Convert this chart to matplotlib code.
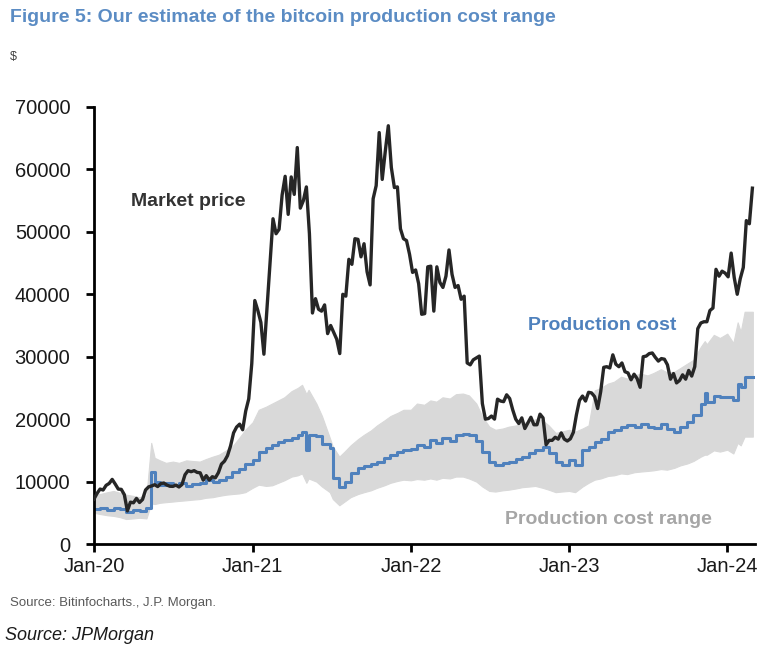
import matplotlib
matplotlib.use("Agg")
import matplotlib.pyplot as plt
import pandas as pd

# ---------------- data ----------------
# weekly bitcoin market price (USD), Wednesdays from 2020-01-01 to 2024-02-28
price_start = "2020-01-01"
price_values = [
    7200, 8100, 8800, 8650, 9400, 9700, 10350, 9600, 8800, 8750, 7900, 5300, 6700,
    6600, 7300, 6650, 7130, 8660, 9150, 9300, 9500, 9200, 9670, 9770, 9450, 9250,
    9230, 9430, 9130, 9530, 11100, 11750, 11580, 11750, 11470, 11400, 10230, 10950,
    10240, 10780, 10600, 11430, 12800, 13270, 14150, 15700, 17800, 18730, 19200,
    18300, 21300, 23250, 28900,
    39000, 37400, 35500, 30400, 37600, 44800, 52100, 49700, 50400, 55900, 58900,
    52800, 58800, 56000, 63500, 53800, 55000, 57200, 49700, 37000, 39300, 37600,
    37300, 38300, 33700, 35000, 33900, 32800, 30500, 40000, 39700, 45600, 44800,
    48900, 48800, 46000, 48100, 43600, 41500, 55300, 57400, 65900, 58400, 62900,
    67000, 60300, 57100, 57200, 50500, 48900, 48600, 46400,
    43500, 43900, 41700, 36800, 36900, 44400, 44500, 37300, 44400, 41900, 41100,
    42900, 47100, 43200, 41100, 41400, 39200, 39700, 29000, 28700, 29500, 29800,
    30100, 22500, 20000, 20100, 20500, 20000, 23200, 22900, 22800, 23900, 23300,
    21500, 20000, 19300, 20200, 18500, 19400, 20300, 19100, 19100, 20800, 20200,
    15900, 16600, 16600, 17100, 16800, 17800, 16800, 16500,
    16850, 17900, 20700, 23000, 23700, 22900, 24300, 24200, 23600, 21700, 24400,
    28300, 28400, 28200, 30300, 28800, 28400, 29000, 27600, 27400, 26300, 27200,
    26500, 25100, 30000, 30100, 30500, 30600, 29900, 29300, 29700, 29600, 28700,
    26400, 27300, 25800, 26200, 27100, 26400, 27800, 26900, 28400, 34500, 35400,
    35600, 35600, 37400, 37800, 44000, 42900, 43700, 43400,
    42800, 46600, 42700, 40000, 42500, 44300, 51800, 51300, 57000,
]

cost_dates = [
    "2020-01-01", "2020-01-15", "2020-02-01", "2020-02-15", "2020-03-01", "2020-03-15",
    "2020-04-01", "2020-04-15", "2020-05-01", "2020-05-12", "2020-05-20", "2020-06-01",
    "2020-06-15", "2020-07-01", "2020-07-15", "2020-08-01", "2020-08-15", "2020-09-01",
    "2020-09-15", "2020-10-01", "2020-10-15", "2020-11-01", "2020-11-15", "2020-12-01",
    "2020-12-15",
    "2021-01-01", "2021-01-15", "2021-02-01", "2021-02-15", "2021-03-01", "2021-03-15",
    "2021-04-01", "2021-04-15", "2021-04-25", "2021-05-05", "2021-05-10", "2021-05-28",
    "2021-06-10", "2021-06-28", "2021-07-05", "2021-07-20", "2021-08-01", "2021-08-15",
    "2021-09-01", "2021-09-15", "2021-10-01", "2021-10-15", "2021-11-01", "2021-11-15",
    "2021-12-01", "2021-12-15",
    "2022-01-01", "2022-01-15", "2022-02-01", "2022-02-15", "2022-03-01", "2022-03-15",
    "2022-04-01", "2022-04-15", "2022-05-01", "2022-05-15", "2022-06-01", "2022-06-15",
    "2022-07-01", "2022-07-15", "2022-08-01", "2022-08-15", "2022-09-01", "2022-09-15",
    "2022-10-01", "2022-10-15", "2022-11-01", "2022-11-15", "2022-12-01", "2022-12-15",
    "2023-01-01", "2023-01-15", "2023-02-01", "2023-02-15", "2023-03-01", "2023-03-15",
    "2023-04-01", "2023-04-15", "2023-05-01", "2023-05-15", "2023-06-01", "2023-06-15",
    "2023-07-01", "2023-07-15", "2023-08-01", "2023-08-15", "2023-09-01", "2023-09-15",
    "2023-10-01", "2023-10-15", "2023-11-01", "2023-11-10", "2023-11-15", "2023-12-01",
    "2023-12-15",
    "2024-01-01", "2024-01-15", "2024-01-25", "2024-02-01", "2024-02-10", "2024-02-29",
]
cost_mid = [
    5600, 5800, 5500, 5700, 5600, 5200, 5500, 5300, 5800, 11500, 10000, 9500, 9800,
    9400, 9700, 9300, 9600, 9800, 10200, 9900, 10300, 10800, 11500, 12000, 12800,
    13500, 14800, 15300, 15800, 16300, 16600, 17000, 17500, 18000, 15000, 17500,
    17300, 16000, 15400, 10500, 9200, 10000, 11300, 12200, 12500, 12800, 13200,
    13800, 14300, 14800, 15100,
    15200, 15800, 15600, 16600, 16200, 16900, 16500, 17400, 17700, 17500, 16500,
    14800, 13200, 12600, 12900, 13200, 13600, 14000, 14500, 15000, 15500, 14600,
    13200, 12700,
    13500, 12700, 15000, 15500, 16400, 16800, 18000, 18200, 18800, 19000, 18700,
    19300, 18800, 18600, 19300, 18400, 18000, 18800, 19600, 20600, 22500, 24200,
    22800, 23700, 23500,
    23600, 23000, 25700, 25200, 26800, 26800,
]
cost_low = [
    5000, 4800, 4600, 4500, 4300, 4000, 4100, 4200, 4100, 6500, 6400, 6600, 6700,
    6800, 6900, 7000, 7100, 7200, 7400, 7500, 7700, 7900, 8000, 8100, 8300,
    9000, 9500, 9300, 9400, 9800, 10200, 10800, 11000, 11300, 9800, 10500, 10000,
    9200, 8300, 7200, 6200, 6800, 7500, 8000, 8300, 8600, 9000, 9400, 9800, 10100,
    10300,
    10200, 10400, 10300, 10500, 10300, 10600, 10500, 10800, 10800, 10500, 10000,
    9200, 8500, 8400, 8600, 8700, 8900, 9100, 9200, 9300, 9000, 8700, 8300, 8400,
    8500, 8300, 9200, 9800, 10300, 10500, 10900, 11000, 11300, 11200, 11500, 11600,
    11700, 11800, 12000, 11900, 12200, 12600, 12900, 13300, 14000, 14300, 14300,
    15000, 14800,
    15100, 14500, 16200, 15800, 17200, 17200,
]
cost_high = [
    8200, 8000, 8300, 8500, 8200, 7900, 7700, 7500, 7800, 16200, 13800, 13400, 13000,
    13200, 13000, 13400, 13300, 13200, 13600, 14000, 14300, 15000, 15600, 17000,
    18300,
    19500, 21500, 22000, 22500, 23000, 23500, 24500, 25000, 25500, 24000, 24700,
    22500, 20500, 17000, 15600, 14000, 14800, 15800, 16800, 17500, 18200, 19000,
    19800, 20500, 21000, 21500,
    21500, 22500, 22300, 23000, 22800, 23500, 23300, 24000, 24100, 23800, 22500,
    20400, 18800, 18300, 18500, 18800, 19000, 19500, 19400, 20000, 19800, 19000,
    17800, 18000,
    18300, 18000, 18500, 19000, 24600, 25000, 25700, 26000, 26800, 26500, 27000,
    27300, 27000, 27400, 28000, 27500, 27600, 28200, 28900, 29500, 31600, 32500,
    32000, 33500, 33000,
    33700, 32200, 35500, 34000, 37200, 37200,
]

year_ticks = ["2020-01-01", "2021-01-01", "2022-01-01", "2023-01-01", "2024-01-01"]
year_labels = ["Jan-20", "Jan-21", "Jan-22", "Jan-23", "Jan-24"]
y_ticks = [0, 10000, 20000, 30000, 40000, 50000, 60000, 70000]

# ---------------- figure ----------------
plt.rcParams["font.family"] = ["Liberation Sans", "DejaVu Sans"]

W, H = 766, 647
fig = plt.figure(figsize=(W / 100, H / 100), dpi=100)
ax = fig.add_axes([94 / W, 1 - 544 / H, (755 - 94) / W, (544 - 107) / H])

price_dates = pd.date_range(price_start, periods=len(price_values), freq="7D")
cd = pd.to_datetime(cost_dates)

ax.fill_between(cd, cost_low, cost_high, color="#d9d9d9", edgecolor="#d9d9d9",
                lw=0.8, zorder=1)
ax.plot(cd, cost_mid, drawstyle="steps-post", color="#4f81bd", lw=2.2, zorder=2)
ax.plot(price_dates, price_values, color="#262626", lw=2.4, zorder=3)

ax.set_ylim(0, 70000)
ax.set_xlim(pd.Timestamp("2020-01-01"), pd.Timestamp("2024-03-05"))
ax.set_yticks(y_ticks)
ax.set_yticklabels([str(v) for v in y_ticks])
ax.set_xticks(pd.to_datetime(year_ticks))
ax.set_xticklabels(year_labels)

for s in ["top", "right"]:
    ax.spines[s].set_visible(False)
for s in ["left", "bottom"]:
    ax.spines[s].set_linewidth(2)
    ax.spines[s].set_color("black")
ax.tick_params(axis="both", direction="out", length=6, width=2, colors="black",
               labelsize=14.5, labelcolor="#1a1a1a")
ax.tick_params(axis="y", pad=11)
ax.tick_params(axis="x", pad=3)

# annotations
def ftxt(x, y, s, **kw):
    fig.text(x / W, 1 - y / H, s, **kw)

ftxt(10, 17, "Figure 5: Our estimate of the bitcoin production cost range",
     fontsize=14, fontweight="bold", color="#5b8cc4", ha="left", va="center")
ftxt(10, 57, "$", fontsize=9, color="#404040", ha="left", va="center")
ftxt(188, 202, "Market price", fontsize=14, fontweight="bold", color="#333333",
     ha="center", va="center")
ftxt(602, 326, "Production cost", fontsize=14, fontweight="bold", color="#4f81bd",
     ha="center", va="center")
ftxt(608, 520, "Production cost range", fontsize=14, fontweight="bold", color="#a6a6a6",
     ha="center", va="center")
ftxt(10, 603, "Source: Bitinfocharts., J.P. Morgan.", fontsize=9.5, color="#595959",
     ha="left", va="center")
ftxt(5, 636, "Source: JPMorgan", fontsize=13, style="italic", color="#1a1a1a",
     ha="left", va="center")

fig.savefig("out.png", dpi=100)
